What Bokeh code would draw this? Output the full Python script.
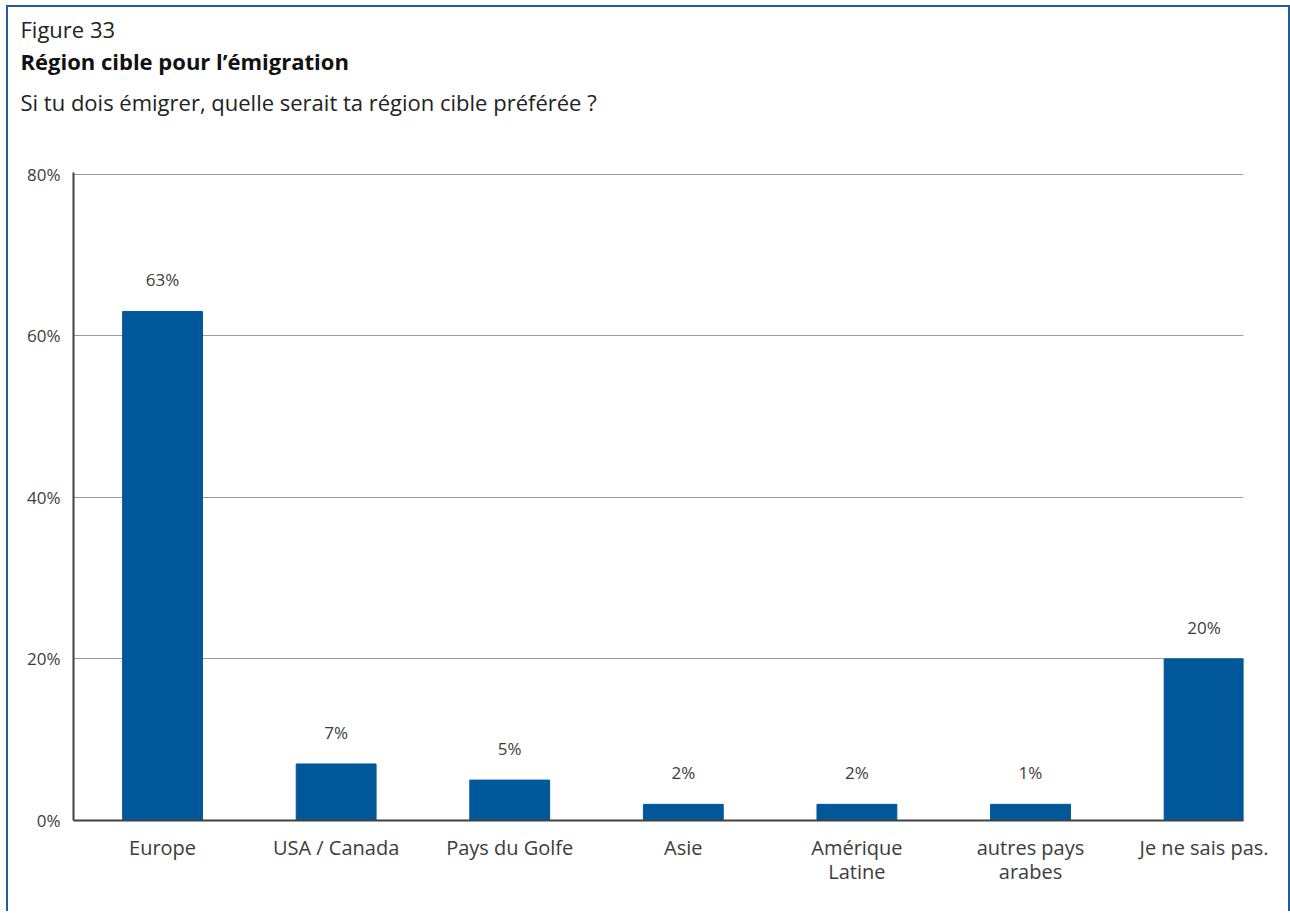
from bokeh.plotting import figure
from bokeh.models import Range1d, FixedTicker, Title
from bokeh.core.properties import value
from bokeh.embed import file_html
from bokeh.resources import INLINE

categories = ["Europe", "USA / Canada", "Pays du Golfe", "Asie",
              "Amérique\nLatine", "autres pays\narabes", "Je ne sais pas."]
values = [63, 7, 5, 2, 2, 2, 20]
value_labels = ["63%", "7%", "5%", "2%", "2%", "1%", "20%"]
y_ticks = [0, 20, 40, 60, 80]
y_tick_labels = ["0%", "20%", "40%", "60%", "80%"]

FONT = "Open Sans"
BLUE = "#00589b"
TEXT = "#3c3c3c"
FRAME_BLUE = "#1f5e9e"

idx = list(range(len(categories)))

p = figure(width=1284, height=906, output_backend="svg", toolbar_location=None,
           x_range=Range1d(-0.513, 6.227), y_range=Range1d(0, 80.2),
           min_border_left=65, min_border_right=49, min_border_top=165,
           min_border_bottom=93, title=None)
p.styles = {"border-top": f"2px solid {FRAME_BLUE}",
            "border-left": f"2px solid {FRAME_BLUE}",
            "border-right": f"2px solid {FRAME_BLUE}",
            "margin-left": "6px", "margin-top": "5px"}
p.outline_line_color = None
p.background_fill_color = "white"
p.border_fill_color = "white"

p.vbar(x=idx, top=values, width=0.46, color=BLUE)
p.text(x=idx, y=values, text=value_labels, y_offset=-20, text_align="center",
       text_baseline="bottom", text_font=value(FONT), text_font_size="17px",
       text_color=TEXT)

# titles (added nearest-first); first one is an empty spacer
p.add_layout(Title(text=" ", text_font=FONT, text_font_size="22px",
                   align="left", offset=-53, standoff=15), "above")
p.add_layout(Title(text="Si tu dois émigrer, quelle serait ta région cible préférée ?",
                   text_font=FONT, text_font_size="22px", text_font_style="normal",
                   text_color="#222222", align="left", offset=-53, standoff=18), "above")
p.add_layout(Title(text="Région cible pour l’émigration",
                   text_font=FONT, text_font_size="22px", text_font_style="bold",
                   text_color="#111111", align="left", offset=-53, standoff=0), "above")
p.add_layout(Title(text="Figure 33",
                   text_font=FONT, text_font_size="22px", text_font_style="normal",
                   text_color="#222222", align="left", offset=-53, standoff=0), "above")

# x axis
p.xaxis.ticker = FixedTicker(ticks=idx)
p.xaxis.major_label_overrides = {i: c for i, c in zip(idx, categories)}
p.xaxis.major_tick_line_color = None
p.xaxis.minor_tick_line_color = None
p.xaxis.axis_line_color = "#404040"
p.xaxis.axis_line_width = 2
p.xaxis.major_label_standoff = 7
p.xaxis.major_label_text_font = FONT
p.xaxis.major_label_text_font_size = "20px"
p.xaxis.major_label_text_line_height = 0.9
p.xaxis.major_label_text_color = TEXT
p.xgrid.visible = False

# y axis
p.yaxis.ticker = FixedTicker(ticks=y_ticks)
p.yaxis.major_label_overrides = {t: l for t, l in zip(y_ticks, y_tick_labels)}
p.yaxis.major_tick_line_color = None
p.yaxis.minor_tick_line_color = None
p.yaxis.axis_line_color = "#404040"
p.yaxis.axis_line_width = 2
p.yaxis.major_label_standoff = 7
p.yaxis.major_label_text_font = FONT
p.yaxis.major_label_text_font_size = "17px"
p.yaxis.major_label_text_color = TEXT
p.ygrid.grid_line_color = "#9a9a9a"
p.ygrid.grid_line_width = 1

open("out.html", "w").write(file_html(p, INLINE))
